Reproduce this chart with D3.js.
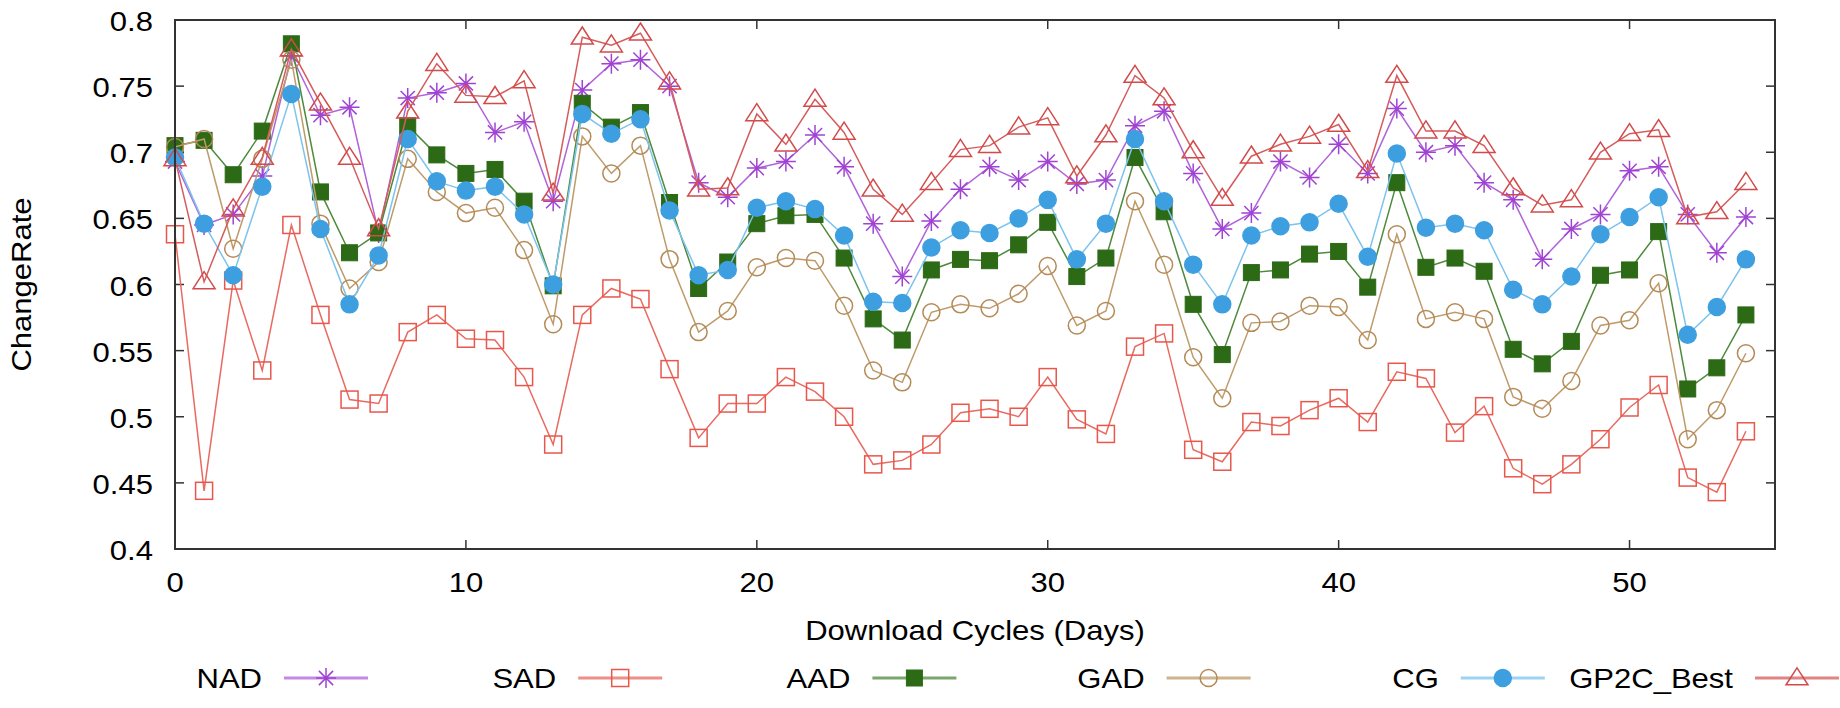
<!DOCTYPE html>
<html>
<meta charset="utf-8">
<head>
  <title>ChangeRate per download cycle</title>
</head>

<style>
body {
  margin: 0;
  background: #fff;
}
text {
  font-family: "Liberation Sans", Arial, Helvetica, sans-serif;
  font-size: 27px;
  fill: #000;
}
.frame {
  fill: none;
  stroke: #333;
  stroke-width: 2;
}
.tick {
  stroke: #333;
  stroke-width: 1.5;
}
</style>

<body>
  <svg id="chart" width="1840" height="708"></svg>

  <script src="https://cdnjs.cloudflare.com/ajax/libs/d3/7.8.5/d3.min.js"></script>

  <script>
var width = 1840, height = 708
var plotLeft = 175, plotRight = 1775, plotTop = 20, plotBottom = 549
// text in the original is a bit wider than plain Helvetica
var stretch = 1.15

var names = ['NAD', 'SAD', 'AAD', 'GAD', 'CG', 'GP2C_Best']
var xTicks = [0, 10, 20, 30, 40, 50]
var yTicks = [0.4, 0.45, 0.5, 0.55, 0.6, 0.65, 0.7, 0.75, 0.8]

var nad = [0.693, 0.645, 0.653, 0.682, 0.773, 0.728, 0.734, 0.639, 0.741, 0.745,
  0.752, 0.715, 0.723, 0.663, 0.747, 0.767, 0.770, 0.750, 0.677, 0.666,
  0.688, 0.693, 0.713, 0.689, 0.646, 0.606, 0.648, 0.672, 0.689, 0.679,
  0.693, 0.676, 0.679, 0.720, 0.731, 0.684, 0.642, 0.654, 0.693, 0.681,
  0.706, 0.684, 0.733, 0.700, 0.705, 0.677, 0.664, 0.619, 0.642, 0.653,
  0.686, 0.689, 0.653, 0.624, 0.651]
var sad = [0.638, 0.444, 0.603, 0.535, 0.645, 0.577, 0.513, 0.510, 0.564, 0.577,
  0.559, 0.558, 0.530, 0.479, 0.577, 0.597, 0.589, 0.536, 0.484, 0.510,
  0.510, 0.530, 0.519, 0.500, 0.464, 0.467, 0.479, 0.503, 0.506, 0.500,
  0.530, 0.498, 0.487, 0.553, 0.563, 0.475, 0.466, 0.496, 0.493, 0.505,
  0.514, 0.496, 0.534, 0.529, 0.488, 0.508, 0.461, 0.449, 0.464, 0.483,
  0.507, 0.524, 0.454, 0.443, 0.489]
var aad = [0.705, 0.709, 0.683, 0.716, 0.782, 0.670, 0.624, 0.639, 0.720, 0.698,
  0.684, 0.687, 0.663, 0.599, 0.737, 0.719, 0.730, 0.662, 0.597, 0.617,
  0.646, 0.652, 0.653, 0.620, 0.574, 0.558, 0.611, 0.619, 0.618, 0.630,
  0.647, 0.606, 0.620, 0.696, 0.655, 0.585, 0.547, 0.609, 0.611, 0.623,
  0.625, 0.598, 0.677, 0.613, 0.620, 0.610, 0.551, 0.540, 0.557, 0.607,
  0.611, 0.640, 0.521, 0.537, 0.577]
var gad = [0.704, 0.710, 0.627, 0.695, 0.770, 0.646, 0.597, 0.617, 0.695, 0.670,
  0.654, 0.658, 0.626, 0.570, 0.712, 0.684, 0.705, 0.619, 0.564, 0.580,
  0.613, 0.620, 0.618, 0.584, 0.535, 0.526, 0.579, 0.585, 0.582, 0.593,
  0.614, 0.569, 0.580, 0.663, 0.615, 0.545, 0.514, 0.571, 0.572, 0.584,
  0.583, 0.558, 0.638, 0.574, 0.579, 0.574, 0.515, 0.506, 0.527, 0.569,
  0.573, 0.601, 0.483, 0.505, 0.548]
var cg = [0.696, 0.646, 0.607, 0.674, 0.744, 0.642, 0.585, 0.622, 0.710, 0.678,
  0.671, 0.674, 0.653, 0.600, 0.729, 0.714, 0.725, 0.656, 0.607, 0.611,
  0.658, 0.663, 0.657, 0.637, 0.587, 0.586, 0.628, 0.641, 0.639, 0.650,
  0.664, 0.619, 0.646, 0.710, 0.663, 0.615, 0.585, 0.637, 0.644, 0.647,
  0.661, 0.621, 0.699, 0.643, 0.646, 0.641, 0.596, 0.585, 0.606, 0.638,
  0.651, 0.666, 0.562, 0.583, 0.619]
var gp2c = [0.695, 0.602, 0.657, 0.696, 0.778, 0.737, 0.696, 0.642, 0.731, 0.767,
  0.743, 0.742, 0.754, 0.669, 0.787, 0.781, 0.790, 0.753, 0.672, 0.673,
  0.729, 0.706, 0.740, 0.715, 0.672, 0.653, 0.677, 0.702, 0.705, 0.719,
  0.726, 0.682, 0.713, 0.758, 0.741, 0.701, 0.665, 0.697, 0.706, 0.712,
  0.721, 0.686, 0.758, 0.716, 0.716, 0.705, 0.673, 0.660, 0.664, 0.700,
  0.714, 0.717, 0.651, 0.655, 0.677]

var seriesValues = [nad, sad, aad, gad, cg, gp2c]
var markerColors = ['#a043d3', '#e8564c', '#2c6a16', '#b48a57', '#3e9fe0', '#d24a4a']
var lineColors = ['#b063da', '#e86a60', '#4d8a3c', '#bf9a6a', '#7cc3ee', '#d65c5c']
var markerTypes = ['star', 'openSquare', 'square', 'openCircle', 'circle', 'triangle']

var svg = d3.select('#chart')

var x = d3.scaleLinear().domain([0, 55]).range([plotLeft, plotRight])
var y = d3.scaleLinear().domain([0.4, 0.8]).range([plotBottom, plotTop])

// stretched text helper
function label(g, tx, ty, str, anchor, rotate) {
  return g.append('text')
    .attr('transform', 'translate(' + tx + ',' + ty + ')' + (rotate ? ' rotate(-90)' : '') + ' scale(' + stretch + ',1)')
    .attr('text-anchor', anchor)
    .text(str)
}

// ticks on all four sides, pointing inwards
var ticks = svg.append('g')
xTicks.forEach(function(t) {
  ticks.append('line').attr('class', 'tick')
    .attr('x1', x(t)).attr('x2', x(t)).attr('y1', plotBottom).attr('y2', plotBottom - 9)
  ticks.append('line').attr('class', 'tick')
    .attr('x1', x(t)).attr('x2', x(t)).attr('y1', plotTop).attr('y2', plotTop + 9)
  label(ticks, x(t), 592, String(t), 'middle')
})
yTicks.forEach(function(t) {
  ticks.append('line').attr('class', 'tick')
    .attr('x1', plotLeft).attr('x2', plotLeft + 9).attr('y1', y(t)).attr('y2', y(t))
  ticks.append('line').attr('class', 'tick')
    .attr('x1', plotRight).attr('x2', plotRight - 9).attr('y1', y(t)).attr('y2', y(t))
  label(ticks, 153, y(t) + 11, String(+t.toFixed(2)), 'end')
})

label(svg, 31, (plotTop + plotBottom) / 2, 'ChangeRate', 'middle', true)
label(svg, (plotLeft + plotRight) / 2, 640, 'Download Cycles (Days)', 'middle')

function drawMarker(g, type, color, cx, cy) {
  if (type == 'star') {
    var r = 10, d = 7.1
    g.append('path')
      .attr('d', 'M' + (cx - r) + ',' + cy + 'H' + (cx + r) + 'M' + cx + ',' + (cy - r) + 'V' + (cy + r) +
        'M' + (cx - d) + ',' + (cy - d) + 'L' + (cx + d) + ',' + (cy + d) +
        'M' + (cx - d) + ',' + (cy + d) + 'L' + (cx + d) + ',' + (cy - d))
      .attr('stroke', color).attr('stroke-width', 1.5).attr('fill', 'none')
  } else if (type == 'openSquare' || type == 'square') {
    var s = type == 'square' ? 16 : 17
    g.append('rect')
      .attr('x', cx - s / 2).attr('y', cy - s / 2).attr('width', s).attr('height', s)
      .attr('fill', type == 'square' ? color : 'none')
      .attr('stroke', color).attr('stroke-width', type == 'square' ? 1 : 1.5)
  } else if (type == 'openCircle' || type == 'circle') {
    g.append('circle')
      .attr('cx', cx).attr('cy', cy).attr('r', 8.5)
      .attr('fill', type == 'circle' ? color : 'none')
      .attr('stroke', color).attr('stroke-width', 1.5)
  } else {
    var w = 11, h = 17
    g.append('path')
      .attr('d', 'M' + cx + ',' + (cy - h * 0.6) + 'L' + (cx + w) + ',' + (cy + h * 0.4) + 'L' + (cx - w) + ',' + (cy + h * 0.4) + 'Z')
      .attr('fill', 'none').attr('stroke', color).attr('stroke-width', 1.5)
  }
}

var line = d3.line()
  .x(function(d, i) { return x(i) })
  .y(function(d) { return y(d) })

var plot = svg.append('g')
seriesValues.forEach(function(vals, k) {
  var g = plot.append('g')
  g.append('path')
    .datum(vals)
    .attr('d', line)
    .attr('fill', 'none')
    .attr('stroke', lineColors[k])
    .attr('stroke-width', 1.5)
  vals.forEach(function(v, i) {
    drawMarker(g, markerTypes[k], markerColors[k], x(i), y(v))
  })
})

svg.append('rect').attr('class', 'frame')
  .attr('x', plotLeft).attr('y', plotTop).attr('width', plotRight - plotLeft).attr('height', plotBottom - plotTop)

// legend along the bottom
var legend = svg.append('g')
names.forEach(function(n, k) {
  var lx = 284 + 294.2 * k, ly = 678
  label(legend, lx - 22, ly + 10, n, 'end')
  legend.append('line')
    .attr('x1', lx).attr('x2', lx + 84).attr('y1', ly).attr('y2', ly)
    .attr('stroke', lineColors[k]).attr('stroke-width', 3).attr('stroke-opacity', 0.75)
  drawMarker(legend, markerTypes[k], markerColors[k], lx + 42, ly)
})
  </script>
</body>
</html>
